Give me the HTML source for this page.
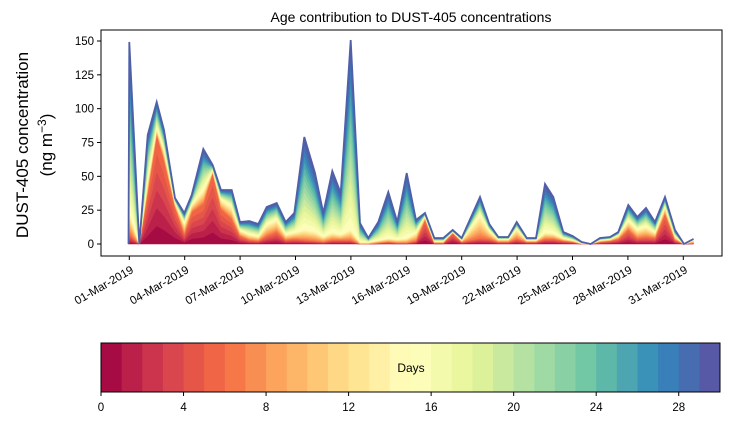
<!DOCTYPE html>
<html><head><meta charset="utf-8"><style>
body{margin:0;background:#fff;}
svg text{font-family:"Liberation Sans","DejaVu Sans",sans-serif;fill:#000;}
</style></head><body>
<svg id="s" width="730" height="425" xmlns="http://www.w3.org/2000/svg">
<text x="411" y="22" font-size="14" text-anchor="middle">Age contribution to DUST-405 concentrations</text>
<g id="plot"></g>
<rect x="101" y="30" width="621" height="226" fill="none" stroke="#000" stroke-width="1"/>
<g id="axes" font-size="11.5"></g>
<text transform="translate(28,145) rotate(-90)" font-size="17" text-anchor="middle">DUST-405 concentration</text>
<text transform="translate(52,145) rotate(-90)" font-size="17" text-anchor="middle">(ng m<tspan dy="-6" font-size="12">−3</tspan><tspan dy="6">)</tspan></text>
<g id="cb"></g>
</svg>
<script>
(function(){
var NS="http://www.w3.org/2000/svg";
function el(n,a,p,t){var e=document.createElementNS(NS,n);for(var k in a)e.setAttribute(k,a[k]);if(t!==undefined)e.textContent=String(t);p.appendChild(e);return e;}
var stops=[[0,[158,1,66]],[.1,[213,62,79]],[.2,[244,109,67]],[.3,[253,174,97]],[.4,[254,224,139]],[.5,[255,255,191]],[.6,[230,245,152]],[.7,[171,221,164]],[.8,[102,194,165]],[.9,[50,136,189]],[1,[94,79,162]]];
function cmap(v){for(var i=0;i<stops.length-1;i++){if(v<=stops[i+1][0]){var f=(v-stops[i][0])/(stops[i+1][0]-stops[i][0]);var a=stops[i][1],b=stops[i+1][1];return "rgb("+a.map(function(x,j){return Math.round(x+(b[j]-x)*f)}).join(",")+")";}}return "rgb(94,79,162)";}
var D=[[128.5,0,0,0],[129.3,202,10,34],[139.3,0,0,0],[147.7,109,51,65],[156.7,142,109,117],[164,114,84,95],[175,46,37,42],[184.3,31,10,22],[191.7,49,32,40],[203.3,95,40,55],[212.7,79,71,74],[221,54,35,45],[231.7,54,25,38],[240,22,8,14],[249.3,23,4,10],[258.3,20,3,8],[266.7,37,8,20],[276.7,41,12,25],[285.7,22,4,10],[294.3,31,5,12],[304.3,107,4,15],[315,71,3,13],[323.3,31,2,8],[332.3,73,4,12],[340.7,51,4,10],[350.7,204,4,15],[360,21,0,2],[368.3,6,0,2],[378.3,22,1,4],[388.3,52,2,6],[397.3,22,1,5],[406.7,71,1,6],[416,24,3,12],[425,31,24,28],[434.3,6,1,3],[443.3,6,1,3],[452.7,14,11,12],[461.7,6,2,4],[480,47,6,30],[489.3,20,5,14],[498.3,7,2,5],[508.3,7,2,5],[516.7,22,5,16],[526.7,6,2,4],[536,6,2,4],[545,60,5,12],[553.3,47,5,11],[563.3,12,3,6],[572.7,8,2,4],[581.7,2,0,1],[590.7,0,0,0],[600,6,2,4],[610,7,3,5],[618.3,12,5,9],[628.3,39,14,24],[637.3,27,6,15],[646,36,7,18],[655,22,6,12],[665,47,30,38],[675,14,4,8],[684,0,0,0],[693.3,5,1,4]];
var B=244;
function cum(p,d){var T=p[1],r=p[2],y=p[3];if(d<=6)return r*d/6;if(d<=15)return r+(y-r)*(d-6)/9;return y+(T-y)*(d-15)/15;}
var g=document.getElementById("plot");
for(var d=0;d<30;d++){var tp=[],bt=[];for(var i=0;i<D.length;i++){var p=D[i];tp.push(p[0]+","+(B-cum(p,d+1)).toFixed(1));bt.unshift(p[0]+","+(B-cum(p,d)).toFixed(1));}
var c=cmap((d+0.5)/30);el("polygon",{points:tp.concat(bt).join(" "),fill:c,stroke:c,"stroke-width":"0.6"},g);}
el("polyline",{points:D.map(function(p){return p[0]+","+(B-p[1])}).join(" "),fill:"none",stroke:"#5060a8","stroke-width":"1.8"},g);
var ax=document.getElementById("axes");
[0,25,50,75,100,125,150].forEach(function(v){var y=B-v*203/150;el("line",{x1:97,x2:101,y1:y,y2:y,stroke:"#000"},ax);el("text",{x:94,y:y+4,"text-anchor":"end"},ax,v);});
var labs=["01","04","07","10","13","16","19","22","25","28","31"];
labs.forEach(function(l,i){var x=129.3+i*55.4;el("line",{x1:x,x2:x,y1:256,y2:260,stroke:"#000"},ax);el("text",{transform:"translate("+(x+5)+",272) rotate(-30)","text-anchor":"end"},ax,l+"-Mar-2019");});
var cb=document.getElementById("cb");var w=619/30;
for(var i=0;i<30;i++)el("rect",{x:101+i*w,y:343,width:w+0.5,height:49,fill:cmap((i+0.5)/30)},cb);
el("rect",{x:101,y:343,width:619,height:49,fill:"none",stroke:"#000"},cb);
for(var t=0;t<=28;t+=4){var x=101+t*w;el("line",{x1:x,x2:x,y1:392,y2:396,stroke:"#000"},cb);el("text",{x:x,y:411,"text-anchor":"middle","font-size":"11.5"},cb,t);}
el("text",{x:411,y:372,"text-anchor":"middle","font-size":"12"},cb,"Days");
})();
</script>
</body></html>
